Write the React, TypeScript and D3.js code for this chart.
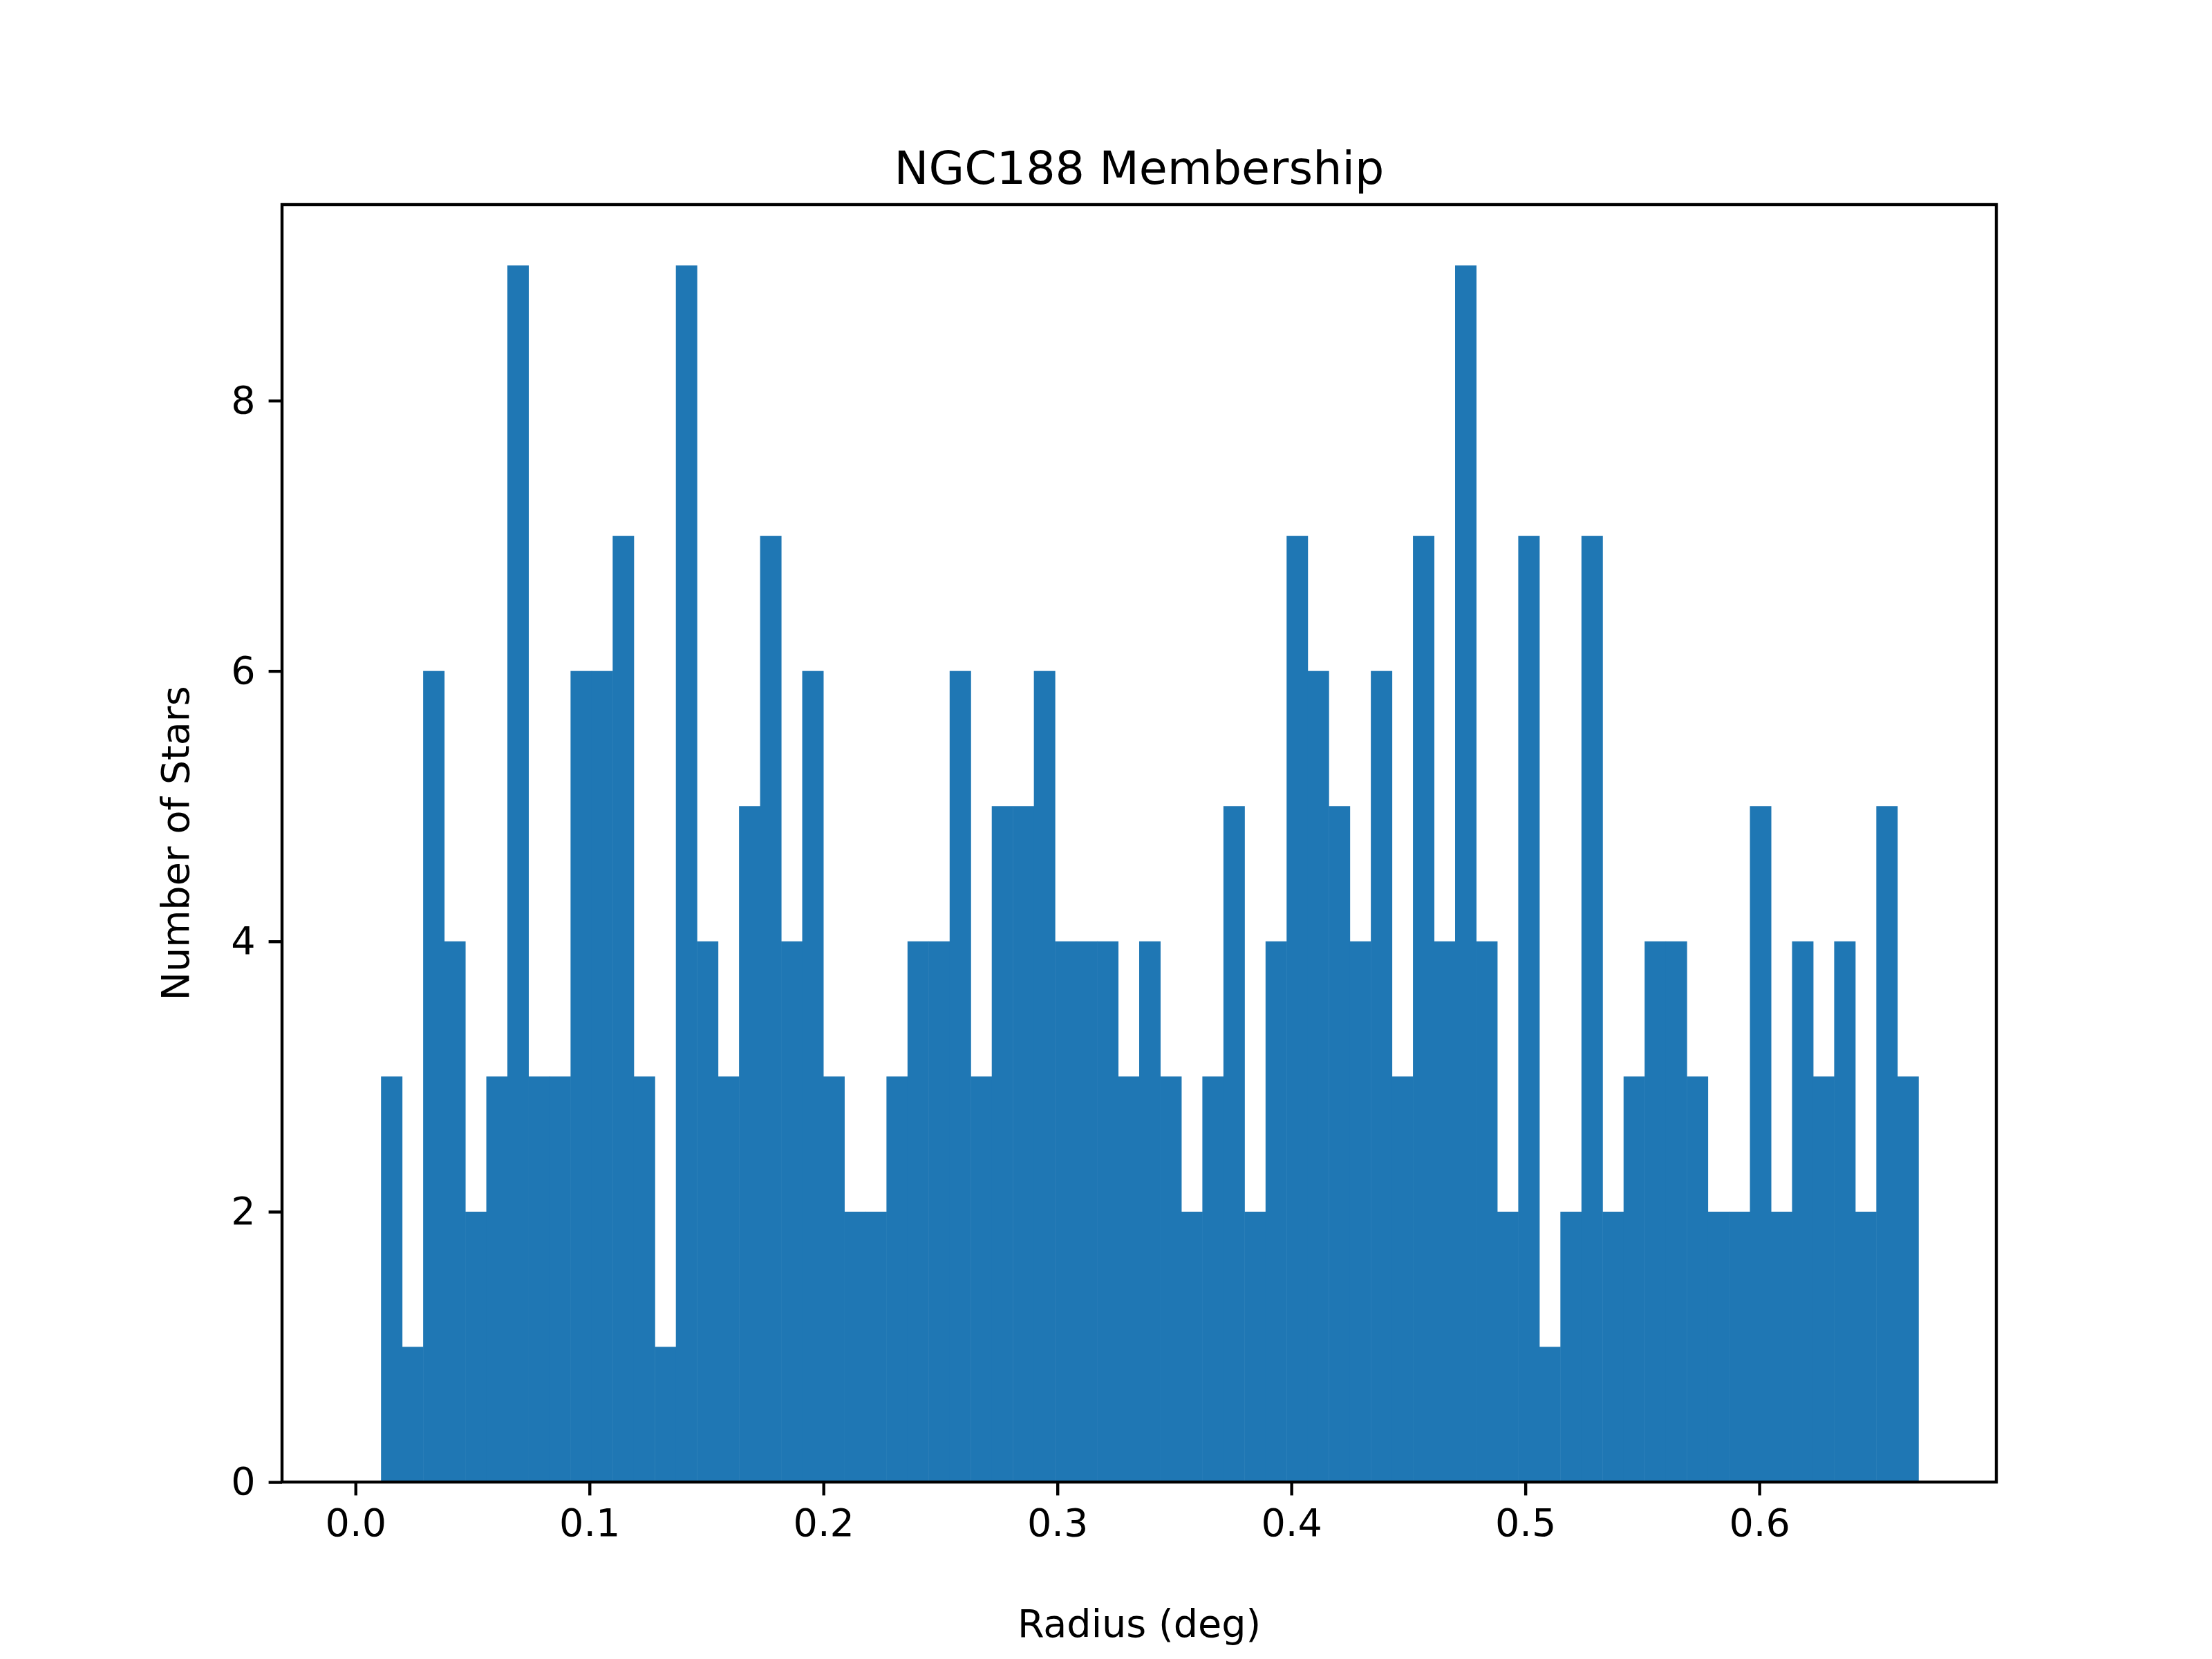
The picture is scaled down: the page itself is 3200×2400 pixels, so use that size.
import React, { useEffect, useRef } from "react";
import * as d3 from "d3";

// histogram counts per bin (first bin empty)
const counts = [
  0, 3, 1, 6, 4, 2, 3, 9, 3, 3, 6, 6, 7, 3, 1, 9, 4, 3, 5, 7, 4, 6, 3, 2, 2,
  3, 4, 4, 6, 3, 5, 5, 6, 4, 4, 4, 3, 4, 3, 2, 3, 5, 2, 4, 7, 6, 5, 4, 6, 3,
  7, 4, 9, 4, 2, 7, 1, 2, 7, 2, 3, 4, 4, 3, 2, 2, 5, 2, 4, 3, 4, 2, 5, 3,
];
const binStart = 0.0019;
const binEnd = 0.668;
const xTicks = [0, 0.1, 0.2, 0.3, 0.4, 0.5, 0.6];
const yTicks = [0, 2, 4, 6, 8];

const App: React.FC = () => {
  const ref = useRef<SVGSVGElement>(null);

  useEffect(() => {
    if (!ref.current) return;
    const svg = d3.select(ref.current);
    svg.selectAll("*").remove();

    const W = 3200, H = 2400;
    const left = 400, right = 2880, top = 288, bottom = 2136;
    const font = "DejaVu Sans";
    const lw = 4.4;

    const span = binEnd - binStart;
    const x = d3.scaleLinear().domain([binStart - span * 0.05, binEnd + span * 0.05]).range([left, right]);
    const y = d3.scaleLinear().domain([0, 9 * 1.05]).range([bottom, top]);
    const bw = span / counts.length;

    svg.append("rect").attr("width", W).attr("height", H).attr("fill", "#fff");

    svg.append("g")
      .selectAll("rect")
      .data(counts)
      .enter()
      .append("rect")
      .attr("x", (_, i) => x(binStart + i * bw))
      .attr("width", (_, i) => x(binStart + (i + 1) * bw) - x(binStart + i * bw) + 0.5)
      .attr("y", (d) => y(d))
      .attr("height", (d) => bottom - y(d))
      .attr("fill", "#1f77b4");

    svg.append("rect")
      .attr("x", left).attr("y", top)
      .attr("width", right - left).attr("height", bottom - top)
      .attr("fill", "none").attr("stroke", "#000").attr("stroke-width", lw);

    const xa = svg.append("g").attr("transform", `translate(0,${bottom})`)
      .call(d3.axisBottom(x).tickValues(xTicks).tickFormat(d3.format(".1f")).tickSize(19.4).tickPadding(19));
    const ya = svg.append("g").attr("transform", `translate(${left},0)`)
      .call(d3.axisLeft(y).tickValues(yTicks).tickFormat(d3.format("d")).tickSize(19.4).tickPadding(19));
    [xa, ya].forEach((a) => {
      a.select(".domain").remove();
      a.selectAll("line").attr("stroke", "#000").attr("stroke-width", lw);
      a.selectAll("text").attr("font-family", font).attr("font-size", 55.6).attr("fill", "#000");
    });

    svg.append("text")
      .attr("x", (left + right) / 2).attr("y", top - 30)
      .attr("text-anchor", "middle")
      .attr("font-family", font).attr("font-size", 66.7)
      .text("NGC188 Membership");

    svg.append("text")
      .attr("x", (left + right) / 2).attr("y", 2360)
      .attr("text-anchor", "middle")
      .attr("font-family", font).attr("font-size", 55.6)
      .text("Radius (deg)");

    svg.append("text")
      .attr("transform", `translate(265,${(top + bottom) / 2}) rotate(-90)`)
      .attr("text-anchor", "middle")
      .attr("font-family", font).attr("font-size", 55.6)
      .text("Number of Stars");
  }, []);

  return <svg ref={ref} width={3200} height={2400} style={{ display: "block" }} />;
};

export default App;
